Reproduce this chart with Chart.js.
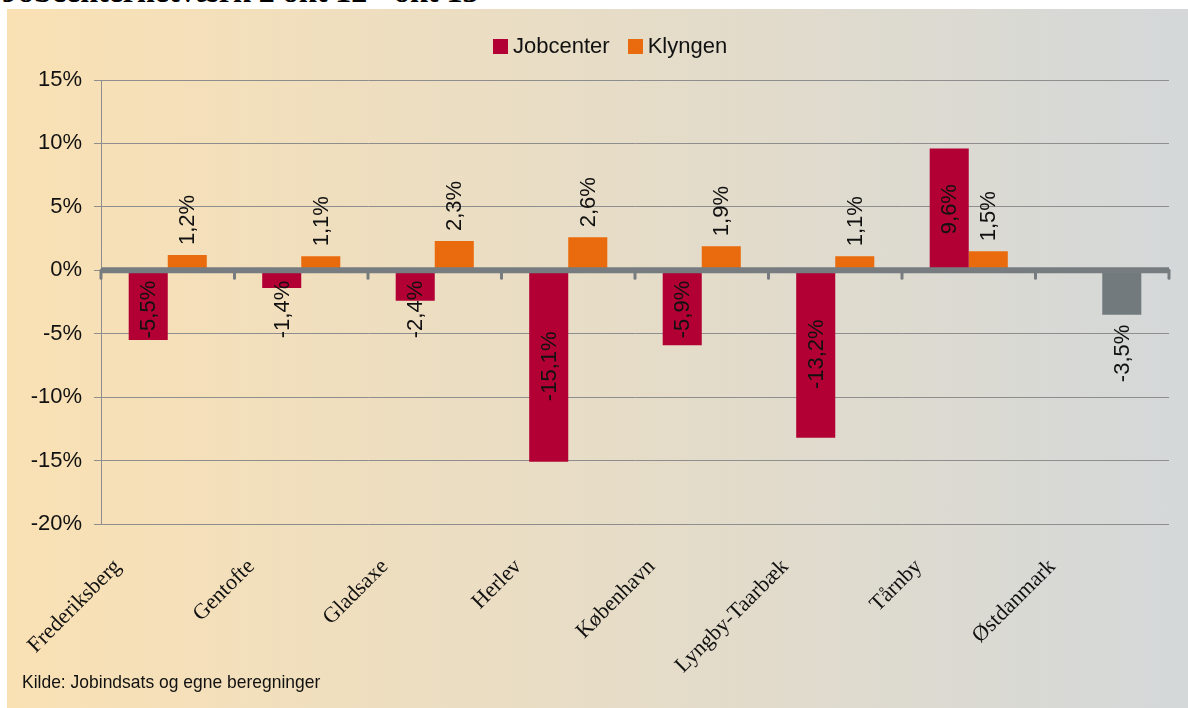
<!DOCTYPE html>
<html>
<head>
<meta charset="utf-8">
<script src="https://cdn.jsdelivr.net/npm/chart.js@4.4.1/dist/chart.umd.min.js"></script>
<style>
  body { margin: 0; background: #fff; width: 1188px; height: 708px; overflow: hidden; position: relative; font-family: "Liberation Sans", Arial, sans-serif; }
  #title { position: absolute; left: 2px; top: -25px; font: bold 32px/32px "Liberation Serif", "Times New Roman", serif; white-space: nowrap; color: #000; }
  #panel { position: absolute; left: 7px; top: 9px; width: 1181px; height: 699px; background: linear-gradient(to right, #FAE1B4, #D4D8D9); }
  #chart { position: absolute; left: 0; top: 0; }
  .legend { position: absolute; top: 24px; left: 486px; display: flex; align-items: center; font-size: 22px; color: #111; }
  .legend span.box { display: inline-block; width: 15px; height: 15px; margin-right: 5px; }
  .legend span.item { display: inline-flex; align-items: center; margin-right: 18px; }
  #source { position: absolute; left: 15px; top: 662px; font: 19px "Liberation Sans Narrow", "Arial Narrow", "Liberation Sans", sans-serif; color: #111; transform: scaleX(0.92); transform-origin: left center; white-space: nowrap; }
</style>
</head>
<body>
<div id="title">Jobcenternetværk 2 okt 12 - okt 13</div>
<div id="panel">
  <canvas id="chart" width="1181" height="699"></canvas>
  <div class="legend" id="legend"></div>
  <div id="source">Kilde: Jobindsats og egne beregninger</div>
</div>
<script>
// data
const categories = ["Frederiksberg", "Gentofte", "Gladsaxe", "Herlev", "København", "Lyngby-Taarbæk", "Tårnby", "Østdanmark"];
const jobcenter = [-5.5, -1.4, -2.4, -15.1, -5.9, -13.2, 9.6, null];
const klyngen = [1.2, 1.1, 2.3, 2.6, 1.9, 1.1, 1.5, -3.5];
const yTicks = [-20, -15, -10, -5, 0, 5, 10, 15];

const RED = "#B20034";
const ORANGE = "#EA6B0D";
const GRAY = "#737A7E";
const GRID = "#8E8E8E";

const klyngenColors = categories.map(c => c === "Østdanmark" ? GRAY : ORANGE);

function fmt(v) {
    return v.toFixed(1).replace(".", ",") + "%";
}

// legend as html
const legend = document.getElementById("legend");
[["Jobcenter", RED], ["Klyngen", ORANGE]].forEach(([name, col]) => {
    legend.innerHTML += '<span class="item"><span class="box" style="background:' + col + '"></span>' + name + '</span>';
});

// thick zero line with small hanging ticks between categories
const zeroLine = {
    id: "zeroLine",
    afterDatasetsDraw(chart) {
        const { ctx, scales: { x, y } } = chart;
        const y0 = y.getPixelForValue(0);
        const half = (x.getPixelForValue(1) - x.getPixelForValue(0)) / 2;
        ctx.save();
        ctx.strokeStyle = "#767C7F";
        ctx.lineWidth = 3;
        ctx.lineCap = "round";
        for (let i = 0; i <= categories.length; i++) {
            const xp = x.getPixelForValue(i) - half;
            ctx.beginPath();
            ctx.moveTo(xp, y0);
            ctx.lineTo(xp, y0 + 8);
            ctx.stroke();
        }
        ctx.lineWidth = 6;
        ctx.lineCap = "butt";
        ctx.beginPath();
        ctx.moveTo(x.left, y0);
        ctx.lineTo(x.right, y0);
        ctx.stroke();
        ctx.restore();
    }
};

// rotated value labels
const valueLabels = {
    id: "valueLabels",
    afterDatasetsDraw(chart) {
        const ctx = chart.ctx;
        ctx.save();
        ctx.font = '22px "Liberation Sans", Arial, sans-serif';
        ctx.fillStyle = "#111";
        ctx.textAlign = "center";
        ctx.textBaseline = "middle";
        chart.data.datasets.forEach((ds, di) => {
            const meta = chart.getDatasetMeta(di);
            meta.data.forEach((bar, i) => {
                const v = ds.data[i];
                if (v === null || v === undefined) return;
                const txt = fmt(v);
                const w = ctx.measureText(txt).width;
                let cy;
                if (di === 0) {
                    cy = (bar.y + bar.base) / 2;
                    if (v < 0) cy = Math.max(cy, bar.base + 10 + w / 2);
                    else cy = Math.min(cy, bar.base - 10 - w / 2);
                } else {
                    cy = v >= 0 ? bar.y - 10 - w / 2 : bar.y + 10 + w / 2;
                }
                ctx.save();
                ctx.translate(bar.x, cy);
                ctx.rotate(-Math.PI / 2);
                ctx.fillText(txt, 0, 1);
                ctx.restore();
            });
        });
        ctx.restore();
    }
};

new Chart(document.getElementById("chart"), {
    type: "bar",
    data: {
        labels: categories,
        datasets: [
            { label: "Jobcenter", data: jobcenter, backgroundColor: RED },
            { label: "Klyngen", data: klyngen, backgroundColor: klyngenColors }
        ]
    },
    options: {
        responsive: false,
        devicePixelRatio: 1,
        animation: false,
        categoryPercentage: 0.585,
        barPercentage: 1,
        layout: { padding: { top: 71, right: 19, bottom: 0, left: 0 } },
        plugins: { legend: { display: false }, tooltip: { enabled: false } },
        scales: {
            x: {
                grid: { display: false, drawTicks: false },
                border: { display: false },
                ticks: {
                    autoSkip: false,
                    maxRotation: 45,
                    minRotation: 45,
                    padding: 30,
                    labelOffset: -50,
                    color: "#111",
                    font: { family: '"Liberation Serif", "Times New Roman", serif', size: 22 }
                },
                afterFit(axis) { axis.height = 184; }
            },
            y: {
                min: yTicks[0],
                max: yTicks[yTicks.length - 1],
                ticks: {
                    stepSize: 5,
                    padding: 12,
                    color: "#111",
                    font: { family: '"Liberation Sans", Arial, sans-serif', size: 22 },
                    callback: v => v + "%"
                },
                grid: {
                    color: c => c.tick && c.tick.value === 0 ? "rgba(0,0,0,0)" : GRID,
                    tickColor: GRID,
                    tickLength: 7,
                    lineWidth: 1
                },
                border: { color: GRID, width: 1 },
                afterFit(axis) { axis.width = 94; }
            }
        }
    },
    plugins: [zeroLine, valueLabels]
});
</script>
</body>
</html>
